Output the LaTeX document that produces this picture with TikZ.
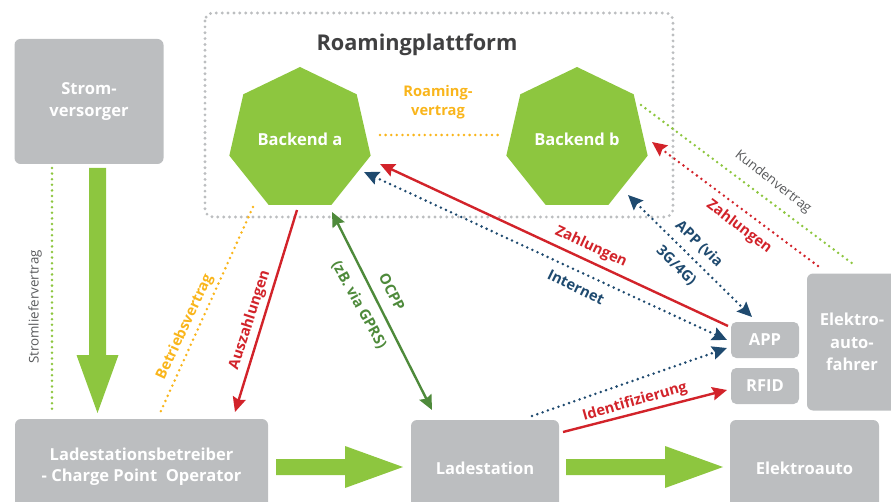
\documentclass[tikz,border=0pt]{standalone}
\usepackage{fontspec}
\setmainfont{Open Sans}
\usetikzlibrary{shapes.geometric,arrows.meta}

\definecolor{boxgray}{HTML}{BCBEC0}
\definecolor{leaf}{HTML}{8DC63F}
\definecolor{payred}{HTML}{D2232A}
\definecolor{netblue}{HTML}{1F4A6F}
\definecolor{ocppgreen}{HTML}{4E8A3B}
\definecolor{contract}{HTML}{F9B51B}
\definecolor{titlegray}{HTML}{404041}
\definecolor{notegray}{HTML}{58595B}

\tikzset{
  box/.style={fill=boxgray, rounded corners=4.5pt, text=white, align=center,
    inner sep=0pt, font=\bfseries\fontsize{12.4}{16}\selectfont},
  backend/.style={regular polygon, regular polygon sides=7, fill=leaf,
    minimum size=108.75pt, inner sep=0pt, outer sep=0pt, text=white,
    font=\bfseries\fontsize{12.4}{16}\selectfont},
  dots/.style={line width=2.1pt, line cap=round, dash pattern=on 0pt off 4.2pt},
  solidline/.style={line width=1.8pt},
  arrowend/.style={-{Stealth[length=11pt,width=10pt,inset=1.5pt]}},
  arrowboth/.style={{Stealth[length=11pt,width=10pt,inset=1.5pt]}-{Stealth[length=11pt,width=10pt,inset=1.5pt]}},
  lbl/.style={inner sep=0pt, align=center, font=\bfseries\fontsize{11}{14.5}\selectfont},
  note/.style={inner sep=0pt, text=notegray, font=\fontsize{10}{12}\selectfont},
  bigarrow/.style={fill=leaf},
}

\begin{document}
\begin{tikzpicture}[x=0.75pt, y=-0.75pt]
\useasboundingbox (0,0) rectangle (891,502);
\clip (0,0) rectangle (891,502);

% roaming platform frame and title
\draw[boxgray, line width=2.4pt, line cap=round, dash pattern=on 0pt off 4.4pt,
      rounded corners=6pt] (205,13) rectangle (673,217);
\node[font=\bfseries\fontsize{16.3}{20}\selectfont, text=titlegray] (title) at (417,45) {Roamingplattform};

% backends
\node[backend] (backa) at (300,139.5) {Backend a};
\node[backend] (backb) at (577,139.5) {Backend b};

% boxes
\node[box, minimum width=111.75pt, minimum height=93.75pt, font=\bfseries\fontsize{12.4}{17}\selectfont] (strom) at (89,101.5) {Strom-\\versorger};
\node[box, minimum width=189.75pt, minimum height=72pt] (cpo) at (141.5,467) {Ladestationsbetreiber\\- Charge Point\ \ Operator};
\node[box, minimum width=111pt, minimum height=72pt] (ls) at (485,468) {Ladestation};
\node[box, minimum width=111.75pt, minimum height=72pt] (ea) at (804.5,468) {Elektroauto};
\node[box, minimum width=51pt, minimum height=27pt, rounded corners=4pt] (app) at (765,340) {APP};
\node[box, minimum width=51pt, minimum height=27pt, rounded corners=4pt] (rfid) at (765,386) {RFID};
\node[box, minimum width=67.5pt, minimum height=102.75pt, font=\bfseries\fontsize{12.4}{17}\selectfont] (fahrer) at (852,342) {Elektro-\\auto-\\fahrer};

% big flow arrows
\fill[bigarrow] (89,168) -- (106,168) -- (106,355) -- (118.5,355) -- (97.5,413) -- (76.5,355) -- (89,355) -- cycle;
\fill[bigarrow] (276,459) -- (345,459) -- (345,446) -- (403,467) -- (345,488) -- (345,475) -- (276,475) -- cycle;
\fill[bigarrow] (566,459) -- (665,459) -- (665,446) -- (723,467) -- (665,488) -- (665,475) -- (566,475) -- cycle;

% connector end points
\coordinate (strom-c) at (52,168);
\coordinate (cpo-c) at (52,413);
\coordinate (a-betr) at (253,207);
\coordinate (cpo-betr) at (160,413);
\coordinate (a-ausz) at (297,210);
\coordinate (cpo-ausz) at (235,412);
\coordinate (a-ocpp) at (332,212);
\coordinate (ls-ocpp) at (432,410);
\coordinate (app-pay) at (728,326);
\coordinate (a-pay) at (380,164);
\coordinate (a-net) at (364,172);
\coordinate (app-net) at (727,340);
\coordinate (b-app) at (628,195);
\coordinate (app-top) at (752,317);
\coordinate (ls-id) at (563,432);
\coordinate (rfid-id) at (727,390);
\coordinate (ls-app) at (532,416);
\coordinate (app-ls) at (727,348);
\coordinate (fahrer-pay) at (818,266);
\coordinate (b-pay) at (652,142);
\coordinate (b-kunde) at (641,105);
\coordinate (fahrer-kunde) at (853,264);
\coordinate (a-roam) at (380,135);
\coordinate (b-roam) at (498,135);

% contracts (dotted, no tips)
\draw[dots, leaf] (strom-c) -- (cpo-c);
\draw[dots, contract] (a-betr) -- (cpo-betr);
\draw[dots, leaf] (b-kunde) -- (fahrer-kunde);
\draw[dots, contract] (a-roam) -- (b-roam);

% payments and data
\draw[solidline, payred, arrowend] (a-ausz) -- (cpo-ausz);
\draw[solidline, ocppgreen, arrowboth] (a-ocpp) -- (ls-ocpp);
\draw[solidline, payred, arrowend] (app-pay) -- (a-pay);
\draw[dots, netblue, arrowboth] (a-net) -- (app-net);
\draw[dots, netblue, arrowboth] (b-app) -- (app-top);
\draw[solidline, payred, arrowend] (ls-id) -- (rfid-id);
\draw[dots, netblue, arrowend] (ls-app) -- (app-ls);
\draw[dots, payred, arrowend] (fahrer-pay) -- (b-pay);

% labels
\node[lbl, text=contract] (roamlbl) at (438,102) {Roaming-\\vertrag};
\node[note, rotate=90] (stromlbl) at (35,307) {Stromliefervertrag};
\node[lbl, text=contract, rotate=65] (betrlbl) at (185,327) {Betriebsvertrag};
\node[lbl, text=payred, rotate=72] (auszlbl) at (250,320) {Auszahlungen};
\node[lbl, text=ocppgreen, rotate=-63] (ocpplbl) at (392,292) {OCPP};
\node[lbl, text=ocppgreen, rotate=-61] (gprslbl) at (359,305) {(zB. via GPRS)};
\node[lbl, text=payred, rotate=-25] (paylbl) at (591,247) {Zahlungen};
\node[lbl, text=netblue, rotate=-26] (netlbl) at (576,287) {Internet};
\node[lbl, text=netblue, rotate=-44] (viallbl) at (699,244) {APP (via};
\node[lbl, text=netblue, rotate=-44] (gsmlbl) at (676,266) {3G/4G)};
\node[lbl, text=payred, rotate=16] (idlbl) at (635,402) {Identifizierung};
\node[lbl, text=payred, rotate=-37] (pay2lbl) at (739,227) {Zahlungen};
\node[note, rotate=-38] (kundelbl) at (773,182) {Kundenvertrag};
\end{tikzpicture}
\end{document}
